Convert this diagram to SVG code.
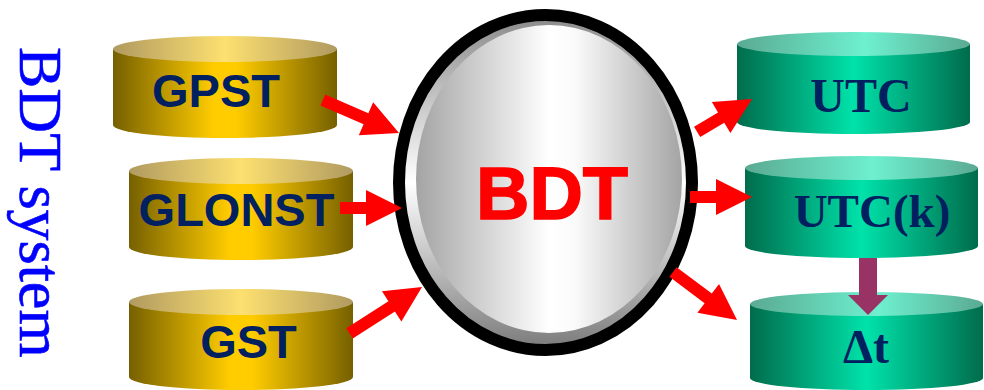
<svg xmlns="http://www.w3.org/2000/svg" width="984" height="390" viewBox="0 0 984 390">
<defs>
<linearGradient id="goldSide" x1="0" y1="0" x2="1" y2="0">
<stop offset="0" stop-color="#766000"/><stop offset="0.45" stop-color="#ffcc00"/><stop offset="0.55" stop-color="#ffcc00"/><stop offset="1" stop-color="#766000"/>
</linearGradient>
<linearGradient id="goldTop" x1="0" y1="0" x2="1" y2="0">
<stop offset="0" stop-color="#b09a60"/><stop offset="0.5" stop-color="#fde070"/><stop offset="1" stop-color="#b09a60"/>
</linearGradient>
<linearGradient id="greenSide" x1="0" y1="0" x2="1" y2="0">
<stop offset="0" stop-color="#006c4c"/><stop offset="0.5" stop-color="#00e2aa"/><stop offset="1" stop-color="#006c4c"/>
</linearGradient>
<linearGradient id="greenTop" x1="0" y1="0" x2="1" y2="0">
<stop offset="0" stop-color="#5aaa92"/><stop offset="0.55" stop-color="#6ef0cf"/><stop offset="1" stop-color="#5aaa92"/>
</linearGradient>
<linearGradient id="bevel" x1="0" y1="0" x2="0" y2="1">
<stop offset="0" stop-color="#8a8a8a"/><stop offset="0.5" stop-color="#ffffff"/><stop offset="1" stop-color="#7a7a7a"/>
</linearGradient>
<linearGradient id="silver" x1="0" y1="0" x2="1" y2="0">
<stop offset="0" stop-color="#a4a4a4"/><stop offset="0.5" stop-color="#ffffff"/><stop offset="0.6" stop-color="#fafafa"/><stop offset="1" stop-color="#a4a4a4"/>
</linearGradient>
</defs>
<style>
.lbl{font-family:"Liberation Sans",Arial,sans-serif;font-weight:bold;fill:#002060;text-anchor:middle}
.lbr{font-family:"Liberation Serif","Times New Roman",serif;font-weight:bold;fill:#002060;text-anchor:middle}
.arr{fill:#ff0000}
</style>
<rect width="984" height="390" fill="#ffffff"/>
<text transform="translate(20,47) rotate(90)" font-family="Liberation Serif,'Times New Roman',serif" font-size="62" fill="#0000ff" stroke="#0000ff" stroke-width="0.6">BDT system</text>

<g id="gpst">
<path d="M113,49 L113,125 A112,13 0 0 0 337,125 L337,49 Z" fill="url(#goldSide)"/>
<ellipse cx="225" cy="49" rx="112" ry="13" fill="url(#goldTop)"/>
<text class="lbl" x="216" y="107" font-size="47">GPST</text>
</g>
<g id="glonst">
<path d="M129,171 L129,247 A112,13 0 0 0 353,247 L353,171 Z" fill="url(#goldSide)"/>
<ellipse cx="241" cy="171" rx="112" ry="13" fill="url(#goldTop)"/>
<text class="lbl" x="236.5" y="226" font-size="47">GLONST</text>
</g>
<g id="gst">
<path d="M129,302 L129,377 A112,13 0 0 0 353,377 L353,302 Z" fill="url(#goldSide)"/>
<ellipse cx="241" cy="302" rx="112" ry="13" fill="url(#goldTop)"/>
<text class="lbl" x="248.5" y="358" font-size="47">GST</text>
</g>

<g id="bdt">
<ellipse cx="545.5" cy="182.5" rx="146.5" ry="167.5" fill="url(#bevel)" stroke="#000000" stroke-width="12"/>
<ellipse cx="549" cy="179" rx="133" ry="154" fill="url(#silver)"/>
<text x="552" y="219" font-family="Liberation Sans,Arial,sans-serif" font-weight="bold" font-size="74" fill="#ff0000" stroke="#ff0000" stroke-width="1.5" text-anchor="middle">BDT</text>
</g>

<g id="utc">
<path d="M737,44 L737,122 A116.5,12 0 0 0 970,122 L970,44 Z" fill="url(#greenSide)"/>
<ellipse cx="853.5" cy="44" rx="116.5" ry="12" fill="url(#greenTop)"/>
<text class="lbr" x="861" y="112" font-size="48">UTC</text>
</g>
<g id="utck">
<path d="M745,168 L745,246 A116.5,12 0 0 0 978,246 L978,168 Z" fill="url(#greenSide)"/>
<ellipse cx="861.5" cy="168" rx="116.5" ry="12" fill="url(#greenTop)"/>
<text class="lbr" x="872" y="227" font-size="47">UTC(k)</text>
</g>
<g id="dt">
<path d="M750,304 L750,378 A116.5,12 0 0 0 983,378 L983,304 Z" fill="url(#greenSide)"/>
<ellipse cx="866.5" cy="304" rx="116.5" ry="12" fill="url(#greenTop)"/>
<text class="lbr" x="866" y="363" font-size="48">Δt</text>
</g>

<g id="connectors">
<polygon class="arr" transform="translate(399,133) rotate(23.5)" points="0,0 -36,-18 -36,-6 -83,-6 -83,6 -36,6 -36,18"/>
<polygon class="arr" transform="translate(402,208)" points="0,0 -36,-18 -36,-6 -62,-6 -62,6 -36,6 -36,18"/>
<polygon class="arr" transform="translate(422,287) rotate(-32.6)" points="0,0 -36,-18 -36,-6 -86,-6 -86,6 -36,6 -36,18"/>
<polygon class="arr" transform="translate(752,99) rotate(-31)" points="0,0 -36,-18 -36,-6 -64,-6 -64,6 -36,6 -36,18"/>
<polygon class="arr" transform="translate(752,197)" points="0,0 -36,-18 -36,-6 -62,-6 -62,6 -36,6 -36,18"/>
<polygon class="arr" transform="translate(737,320) rotate(36.9)" points="0,0 -36,-18 -36,-6 -80,-6 -80,6 -36,6 -36,18"/>
<polygon fill="#993366" points="859,258 877,258 877,295 888,295 868,315 848,295 859,295"/>
</g>
</svg>
